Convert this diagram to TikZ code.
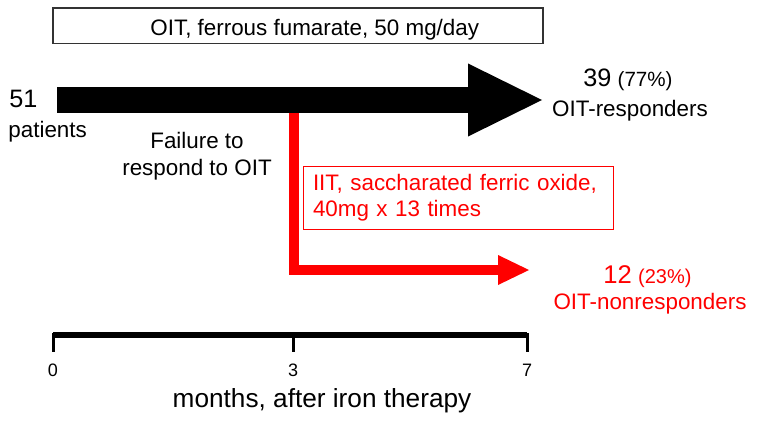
\documentclass[tikz,border=0pt]{standalone}
\usepackage{fontspec}
\setmainfont{Liberation Sans}
\usetikzlibrary{arrows.meta}

\begin{document}
\begin{tikzpicture}[
  x=0.5pt, y=-0.5pt,
  lbl/.style={inner sep=0pt, font=\fontsize{11.2}{13.5}\selectfont},
  num/.style={lbl, font=\fontsize{12.6}{15}\selectfont},
  tklbl/.style={inner sep=0pt, anchor=base, font=\fontsize{9}{11}\selectfont},
  dbox/.style={draw=black!80, line width=0.6pt, inner sep=0pt,
               minimum width=245pt, minimum height=17.75pt},
  rbox/.style={draw=red, line width=0.5pt, text=red, align=left,
               text width=145pt, inner xsep=5pt, inner ysep=0pt,
               minimum width=155pt, minimum height=31.5pt,
               font=\fontsize{11.2}{13}\selectfont},
  oit/.style={line width=13pt, -{Triangle[length=37pt, width=36.5pt, line width=0pt]}},
  iit/.style={red, line width=5.25pt, line join=miter,
              -{Triangle[length=15.5pt, width=15pt, line width=0pt]}},
  axis/.style={line width=3pt},
  tk/.style={line width=1.5pt}
]
\useasboundingbox (0,0) rectangle (758,433);

% oral iron therapy
\node[dbox] (dose) at (298,25.75) {};
\node[lbl, anchor=base west] (dosetxt) at (150,36) {OIT, ferrous fumarate, 50 mg/day};

\node[num, anchor=base west] (n51) at (9,107) {51};
\node[lbl, anchor=base west] (pts) at (8,137) {patients};
\node[lbl, align=center] (fail) at (197,156) {Failure to\\respond to OIT};

\coordinate (oitstart) at (57,100);
\coordinate (oitend) at (542,100);
\draw[oit] (oitstart) -- (oitend);

\node[lbl, anchor=base west] (resp) at (583,87)
     {{\fontsize{12.6}{15}\selectfont 39} {\fontsize{10.3}{12}\selectfont (77\%)}};
\node[lbl, anchor=base] (resplbl) at (630,116) {OIT-responders};

% intravenous iron therapy
\node[rbox] (iv) at (458,197.5) {IIT, saccharated ferric oxide,\\40mg x 13 times};
\coordinate (failpt) at (294,113);
\coordinate (nrtip) at (529,270);
\draw[iit] (failpt) |- (nrtip);

\node[lbl, anchor=base west, text=red] (nonresp) at (603,283)
     {{\fontsize{12.8}{15}\selectfont 12} {\fontsize{10}{12}\selectfont (23\%)}};
\node[lbl, anchor=base, text=red] (nonresplbl) at (650,309) {OIT-nonresponders};

% time axis
\coordinate (m0) at (53,335);
\coordinate (m7) at (527,335);
\draw[axis] (m0) -- (m7);
\foreach \x/\t in {53/0, 293/3, 527/7} {
  \draw[tk] (\x,333) -- (\x,352);
  \node[tklbl] (t\t) at (\x,376) {\t};
}
\node[lbl, anchor=base, font=\fontsize{13.1}{15}\selectfont] (months) at (322,407)
     {months, after iron therapy};
\end{tikzpicture}
\end{document}
